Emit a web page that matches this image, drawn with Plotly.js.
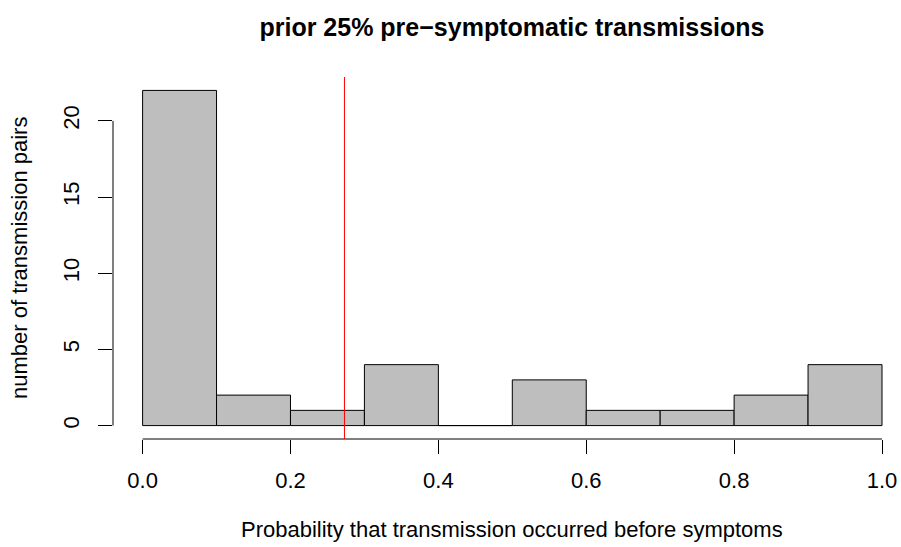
<!DOCTYPE html>
<html>
<head>
<meta charset="utf-8">
<script src="https://cdn.plot.ly/plotly-3.0.1.min.js"></script>
<style>html,body{margin:0;padding:0;background:#fff;}#chart{width:901px;height:547px;}</style>
</head>
<body>
<div id="chart"></div>
<script>
// Histogram data
const binStarts = [0.0, 0.1, 0.2, 0.3, 0.4, 0.5, 0.6, 0.7, 0.8, 0.9];
const binWidth = 0.1;
const counts = [22, 2, 1, 4, 0, 3, 1, 1, 2, 4];
const xTickVals = [0, 0.2, 0.4, 0.6, 0.8, 1.0];
const xTickText = ["0.0", "0.2", "0.4", "0.6", "0.8", "1.0"];
const yTickVals = [0, 5, 10, 15, 20];
const yTickText = ["0", "5", "10", "15", "20"];
const priorLine = 0.273;
const titleText = "prior 25% pre\u2212symptomatic transmissions";
const xTitle = "Probability that transmission occurred before symptoms";
const yTitle = "number of transmission pairs";

const W = 901, H = 547;
const mL = 113, mR = 0, mT = 77, mB = 108;
const plotW = W - mL - mR, plotH = H - mT - mB;
const px0 = 142.6, pxPerUnit = 739.4;
const xRange = [(mL - px0) / pxPerUnit, (W - mR - px0) / pxPerUnit];
const yRange = [-0.88, 22.88];
const font = "'Liberation Sans', Arial, Helvetica, sans-serif";
const labSize = 22, mainSize = 25;

const centers = binStarts.map(b => b + binWidth / 2);
const trace = {
  type: 'bar',
  x: centers,
  y: counts,
  width: binStarts.map(() => binWidth),
  marker: {color: '#BEBEBE', line: {color: '#000000', width: 1}},
  hoverinfo: 'x+y'
};

const layout = {
  width: W, height: H,
  margin: {l: mL, r: mR, t: mT, b: mB, pad: 0},
  paper_bgcolor: '#ffffff', plot_bgcolor: '#ffffff',
  showlegend: false,
  bargap: 0,
  font: {family: font, size: labSize, color: '#000'},
  title: {
    text: '<b>' + titleText + '</b>',
    font: {family: font, size: mainSize, color: '#000'},
    xref: 'container', yref: 'container',
    x: 512 / W, y: 1 - 27 / H, xanchor: 'center', yanchor: 'middle'
  },
  xaxis: {
    range: xRange, autorange: false,
    tickvals: xTickVals, ticktext: xTickText,
    ticks: 'outside', ticklen: 14, tickwidth: 1, tickcolor: '#000',
    ticklabelstandoff: 8,
    showline: false, zeroline: false, showgrid: false,
    tickfont: {family: font, size: labSize, color: '#000'}
  },
  yaxis: {
    range: yRange, autorange: false,
    tickvals: yTickVals, ticktext: yTickText,
    tickangle: -90,
    ticks: 'outside', ticklen: 14, tickwidth: 1, tickcolor: '#000',
    ticklabelstandoff: 10,
    showline: false, zeroline: false, showgrid: false,
    tickfont: {family: font, size: labSize, color: '#000'}
  },
  shapes: [
    {type: 'line', xref: 'x', yref: 'paper', x0: xTickVals[0], x1: xTickVals[xTickVals.length - 1], y0: 0, y1: 0, line: {color: '#000', width: 1}},
    {type: 'line', xref: 'paper', yref: 'y', x0: 0, x1: 0, y0: yTickVals[0], y1: yTickVals[yTickVals.length - 1], line: {color: '#000', width: 1}},
    {type: 'line', xref: 'x', yref: 'paper', x0: priorLine, x1: priorLine, y0: 0, y1: 1, line: {color: '#FF0000', width: 1}}
  ],
  annotations: [
    {text: xTitle, xref: 'paper', yref: 'paper', x: (512 - mL) / plotW, y: (mT + plotH - 529) / plotH,
     xanchor: 'center', yanchor: 'middle', showarrow: false, font: {family: font, size: labSize, color: '#000'}},
    {text: yTitle, xref: 'paper', yref: 'paper', x: (19 - mL) / plotW, y: (mT + plotH - 258) / plotH,
     xanchor: 'center', yanchor: 'middle', textangle: -90, showarrow: false, font: {family: font, size: labSize, color: '#000'}}
  ]
};

Plotly.newPlot('chart', [trace], layout, {displayModeBar: false, staticPlot: true});
</script>
</body>
</html>
